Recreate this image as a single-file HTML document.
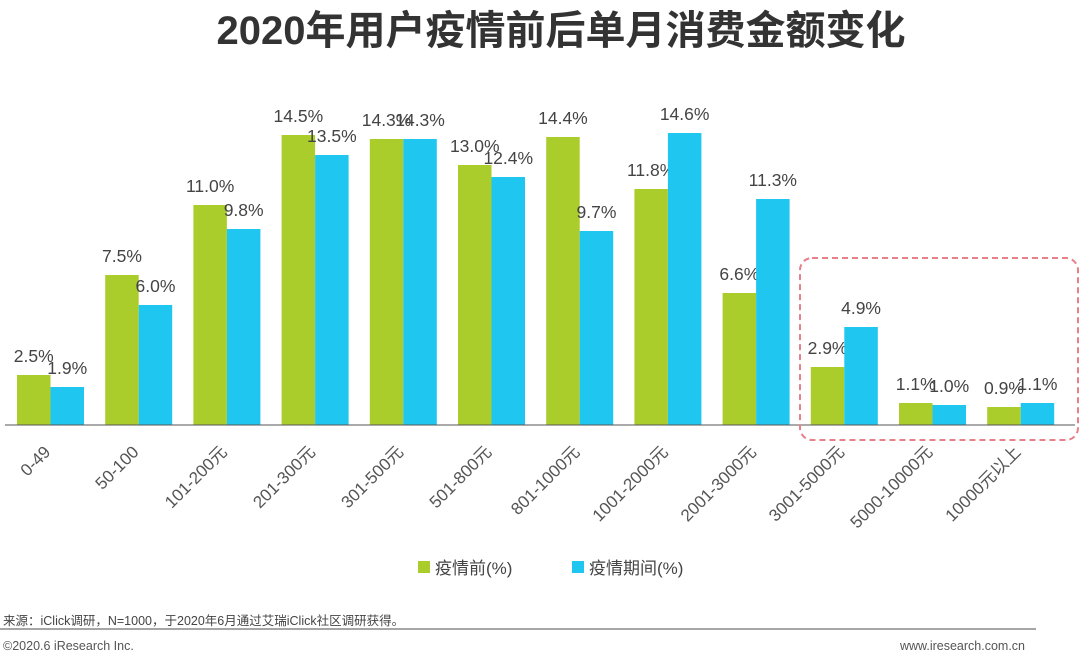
<!DOCTYPE html>
<html><head><meta charset="utf-8"><style>
body{margin:0;width:1080px;height:666px;background:#fff;overflow:hidden;font-family:"Liberation Sans","Noto Sans CJK SC",sans-serif}
</style></head><body>
<svg id="c" width="1080" height="666" xmlns="http://www.w3.org/2000/svg">
<text x="561" y="44" text-anchor="middle" font-size="40" font-weight="bold" fill="#333" font-family="Liberation Sans,Noto Sans CJK SC,sans-serif">2020年用户疫情前后单月消费金额变化</text>
<g id="bars"></g>
<line x1="5" y1="425" x2="1075" y2="425" stroke="#555" stroke-width="1"/>
<rect x="800" y="258" width="278" height="182" rx="12" fill="none" stroke="#e8808a" stroke-width="2" stroke-dasharray="6,4"/>
<g>
<rect x="418" y="561" width="12" height="12" fill="#aacd2b"/>
<text x="435" y="574" font-size="17" fill="#444">疫情前(%)</text>
<rect x="572" y="561" width="12" height="12" fill="#1fc7f0"/>
<text x="589" y="574" font-size="17" fill="#444">疫情期间(%)</text>
</g>
<text x="3" y="625" font-size="12.5" fill="#444">来源：iClick调研，N=1000，于2020年6月通过艾瑞iClick社区调研获得。</text>
<line x1="0" y1="629" x2="1036" y2="629" stroke="#888" stroke-width="1.5"/>
<text x="3" y="650" font-size="12.5" fill="#555">©2020.6 iResearch Inc.</text>
<text x="1025" y="650" text-anchor="end" font-size="12.5" fill="#555">www.iresearch.com.cn</text>
</svg>
<script>
const categories=["0-49","50-100","101-200元","201-300元","301-500元","501-800元","801-1000元","1001-2000元","2001-3000元","3001-5000元","5000-10000元","10000元以上"];
const beforeValues=[2.5,7.5,11.0,14.5,14.3,13.0,14.4,11.8,6.6,2.9,1.1,0.9];
const duringValues=[1.9,6.0,9.8,13.5,14.3,12.4,9.7,14.6,11.3,4.9,1.0,1.1];
const NS="http://www.w3.org/2000/svg";
const g=document.getElementById('bars');
const y=v=>425-v*20;
const xg=i=>17+i*88.2;
const bw=33.5;
function mk(t,a){const e=document.createElementNS(NS,t);for(const k in a)e.setAttribute(k,a[k]);g.appendChild(e);return e;}
categories.forEach((c,i)=>{
 [[beforeValues[i],'#aacd2b',0,'before'],[duringValues[i],'#1fc7f0',bw,'during']].forEach(([v,col,off,s])=>{
  const r=mk('rect',{x:xg(i)+off,y:y(v),width:bw,height:425-y(v),fill:col});
  
  
  const t=mk('text',{x:xg(i)+off+bw/2,y:y(v)-13,'text-anchor':'middle','font-size':'17.5',fill:'#444'});
  t.textContent=v.toFixed(1)+'%';
  
  
 });
 const cx=xg(i)+bw+1, cy=453;
 const l=mk('text',{x:cx,y:cy,'text-anchor':'end','font-size':'17',fill:'#555',transform:`rotate(-45 ${cx} ${cy})`});
 l.textContent=c;
 
 
});
</script>
</body></html>
